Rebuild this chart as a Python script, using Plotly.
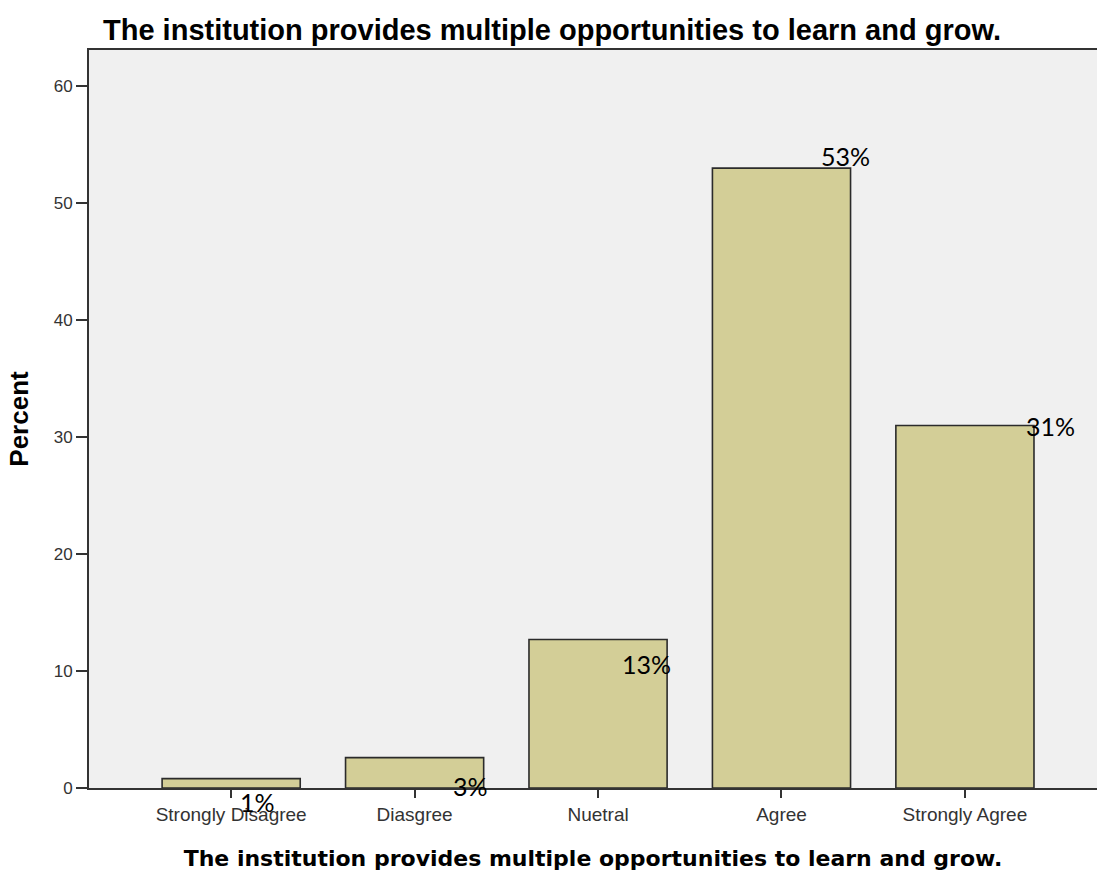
import plotly.graph_objects as go

# Survey responses: share of respondents per answer
categories = ["Strongly Disagree", "Diasgree", "Nuetral", "Agree", "Strongly Agree"]
percent = [0.8, 2.6, 12.7, 53.0, 31.0]
# Rounded labels written next to each bar
label_text = [f"{round(v)}%" for v in percent]
# Pixel offsets of the value labels relative to each bar's top centre
label_dx = [26, 56, 48, 64, 86]
label_dy = [-23, -28, -25, 12, -1]

y_ticks = [0, 10, 20, 30, 40, 50, 60]
question = "The institution provides multiple opportunities to learn and grow."

fig = go.Figure()
fig.add_trace(go.Bar(
    x=list(range(len(categories))),
    y=percent,
    width=0.753,
    marker=dict(color="#D3CE97", line=dict(color="#2b2b2b", width=1.6)),
    hoverinfo="skip",
))

for i, (v, t) in enumerate(zip(percent, label_text)):
    fig.add_annotation(
        x=i, y=v, text=t, showarrow=False,
        xanchor="center", yanchor="middle",
        xshift=label_dx[i], yshift=label_dy[i],
        font=dict(family="Lato", size=25, color="#000000"),
    )

fig.update_layout(
    width=1097, height=871,
    margin=dict(l=89, r=0, t=50, b=83),
    paper_bgcolor="#ffffff",
    plot_bgcolor="#F0F0F0",
    showlegend=False,
    title=dict(
        text="<b>" + question + "</b>",
        x=103 / 1097, xanchor="left",
        y=1 - 30 / 871, yanchor="middle",
        font=dict(family="Liberation Sans", size=29, color="#000000"),
    ),
    font=dict(family="Liberation Sans", color="#333333"),
)

fig.update_xaxes(
    range=[-0.775, 4.72],
    tickvals=list(range(len(categories))),
    ticktext=categories,
    ticks="outside", ticklen=8, tickwidth=2, tickcolor="#333333",
    tickfont=dict(family="Liberation Sans", size=19, color="#333333"),
    showline=True, linecolor="#333333", linewidth=2, mirror=True,
    showgrid=False, zeroline=False,
    title=dict(text="<b>" + question + "</b>",
               font=dict(family="DejaVu Sans", size=22, color="#000000"),
               standoff=27),
)
fig.update_yaxes(
    range=[0, 63.1],
    tickvals=y_ticks,
    ticks="outside", ticklen=11, tickwidth=2, tickcolor="#333333",
    tickfont=dict(family="Liberation Sans", size=17, color="#333333"),
    showline=True, linecolor="#333333", linewidth=2,
    showgrid=False, zeroline=False,
    title=dict(text="<b>Percent</b>",
               font=dict(family="Liberation Sans", size=26, color="#000000"),
               standoff=18),
)

fig.write_html("out.html")
